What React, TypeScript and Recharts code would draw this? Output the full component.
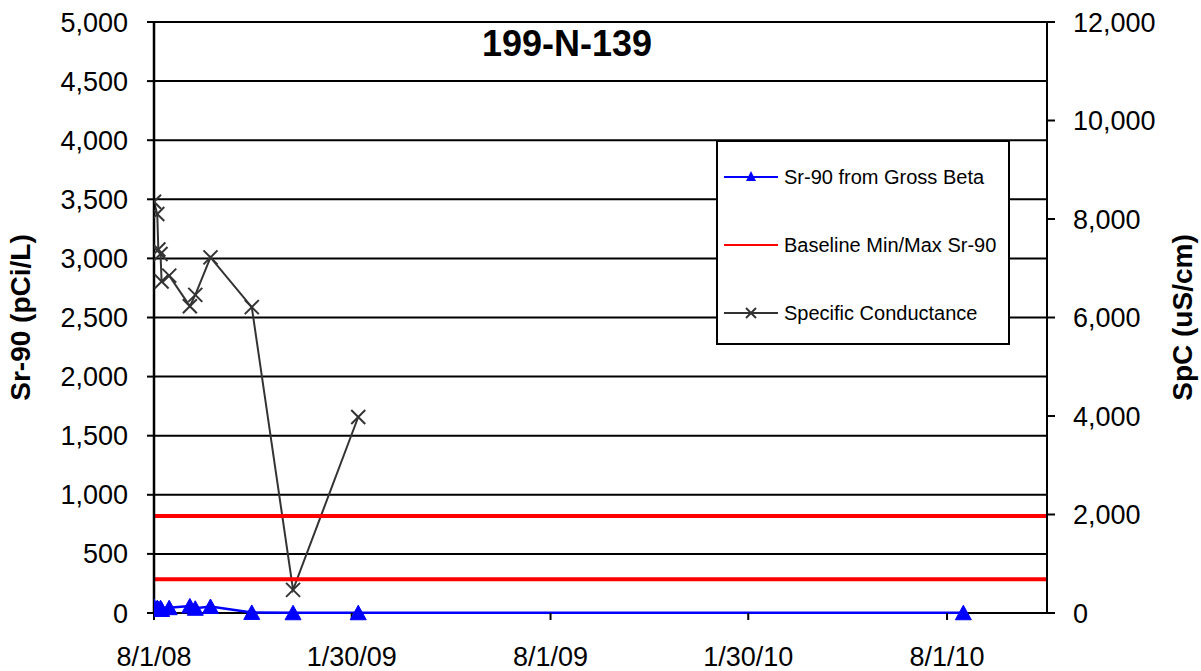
import React from 'react';
import {
  ComposedChart,
  Line,
  XAxis,
  YAxis,
  CartesianGrid,
  ReferenceLine,
  Legend,
  Label,
} from 'recharts';

// ---- data ----
const spcDates = [
  '2008-08-01', '2008-08-04', '2008-08-05', '2008-08-07', '2008-08-08', '2008-08-15',
  '2008-09-03', '2008-09-08', '2008-09-22', '2008-10-30', '2008-12-07', '2009-02-05',
];
const spcValues = [8350, 8100, 7380, 7290, 6730, 6850, 6230, 6460, 7220, 6210, 470, 3980];

const srDates = [
  '2008-08-01', '2008-08-04', '2008-08-05', '2008-08-07', '2008-08-08', '2008-08-15',
  '2008-09-03', '2008-09-08', '2008-09-22', '2008-10-30', '2008-12-07', '2009-02-05',
  '2010-08-16',
];
const srValues = [55, 45, 35, 45, 30, 45, 60, 40, 55, 5, 2, 2, 2];

const baselineSr90 = [285, 820]; // min, max

const xTickDates = ['2008-08-01', '2009-01-30', '2009-08-01', '2010-01-30', '2010-08-01'];
const xDomainDates = ['2008-08-01', '2010-11-01'];
const leftTicks = [0, 500, 1000, 1500, 2000, 2500, 3000, 3500, 4000, 4500, 5000];
const rightTicks = [0, 2000, 4000, 6000, 8000, 10000, 12000];

const title = '199-N-139';
const seriesNames = ['Sr-90 from Gross Beta', 'Baseline Min/Max Sr-90', 'Specific Conductance'];

// ---- helpers ----
const toTime = (d: string) => {
  const [y, m, day] = d.split('-').map(Number);
  return Date.UTC(y, m - 1, day);
};
const fmtDate = (t: number) => {
  const d = new Date(t);
  return `${d.getUTCMonth() + 1}/${d.getUTCDate()}/${String(d.getUTCFullYear()).slice(2)}`;
};
const fmtNum = (v: number) => v.toLocaleString('en-US');

const spcData = spcDates.map((d, i) => ({ t: toTime(d), spc: spcValues[i] }));
const srData = srDates.map((d, i) => ({ t: toTime(d), sr: srValues[i] }));

const FONT = '"Liberation Sans", Arial, Helvetica, sans-serif';
const BLUE = '#0000FF';
const RED = '#FF0000';
const GREY = '#333333';

const TriangleDot = (props: any) => {
  const { cx, cy } = props;
  if (cx == null || cy == null) return null;
  return (
    <polygon
      points={`${cx},${cy - 7.5} ${cx - 8},${cy + 7} ${cx + 8},${cy + 7}`}
      fill={BLUE}
      stroke={BLUE}
      strokeWidth={1}
    />
  );
};

const CrossDot = (props: any) => {
  const { cx, cy } = props;
  if (cx == null || cy == null) return null;
  const r = 7;
  return (
    <g stroke={GREY} strokeWidth={2}>
      <line x1={cx - r} y1={cy - r} x2={cx + r} y2={cy + r} />
      <line x1={cx - r} y1={cy + r} x2={cx + r} y2={cy - r} />
    </g>
  );
};

const AxisTitle = ({ viewBox, text, offsetX }: any) => {
  if (!viewBox) return null;
  const cx = viewBox.x + offsetX;
  const cy = viewBox.y + viewBox.height / 2;
  return (
    <text
      x={cx}
      y={cy}
      transform={`rotate(-90 ${cx} ${cy})`}
      textAnchor="middle"
      dominantBaseline="central"
      fontFamily={FONT}
      fontSize={28}
      fontWeight="bold"
      fill="#000"
    >
      {text}
    </text>
  );
};

const LegendBox = () => {
  const row = (sample: React.ReactNode, label: string) => (
    <div style={{ height: 68, display: 'flex', alignItems: 'center' }}>
      <svg width={54} height={20} style={{ marginLeft: 6, marginRight: 6, flex: 'none' }}>
        {sample}
      </svg>
      <span style={{ fontFamily: FONT, fontSize: 20, color: '#000', whiteSpace: 'nowrap' }}>{label}</span>
    </div>
  );
  return (
    <div
      style={{
        width: 294,
        height: 205,
        boxSizing: 'border-box',
        border: '2px solid #000',
        background: '#fff',
        paddingTop: 1,
      }}
    >
      {row(
        <g>
          <line x1={0} y1={10} x2={54} y2={10} stroke={BLUE} strokeWidth={2} />
          <polygon points="27,4 22,14 32,14" fill={BLUE} />
        </g>,
        seriesNames[0]
      )}
      {row(<line x1={0} y1={10} x2={54} y2={10} stroke={RED} strokeWidth={2} />, seriesNames[1])}
      {row(
        <g stroke={GREY} strokeWidth={2}>
          <line x1={0} y1={10} x2={54} y2={10} />
          <line x1={22} y1={5} x2={32} y2={15} />
          <line x1={22} y1={15} x2={32} y2={5} />
        </g>,
        seriesNames[2]
      )}
    </div>
  );
};

export default function App() {
  const tickStyle = { fontFamily: FONT, fontSize: 27, fill: '#000' };
  return (
    <div style={{ position: 'absolute', left: 0, top: 0, width: 1201, height: 671, background: '#fff' }}>
      <ComposedChart
        width={1201}
        height={671}
        margin={{ top: 22, right: 0, bottom: 0, left: 0 }}
        style={{ fontFamily: FONT }}
      >
        {/* the grid line at 0 doubles as the bottom axis line, so the series can sit on top of it */}
        <CartesianGrid yAxisId="left" vertical={false} stroke="#000" strokeWidth={2} />
        <XAxis
          type="number"
          dataKey="t"
          domain={xDomainDates.map(toTime)}
          ticks={xTickDates.map(toTime)}
          tickFormatter={fmtDate}
          allowDataOverflow
          height={58}
          tick={tickStyle}
          tickSize={7}
          tickMargin={27}
          axisLine={false}
          tickLine={{ stroke: '#000', strokeWidth: 2 }}
        />
        <YAxis
          yAxisId="left"
          orientation="left"
          domain={[0, 5000]}
          ticks={leftTicks}
          tickFormatter={fmtNum}
          width={154}
          tick={tickStyle}
          tickSize={7}
          tickMargin={19}
          axisLine={{ stroke: '#000', strokeWidth: 2.5 }}
          tickLine={{ stroke: '#000', strokeWidth: 2 }}
          interval={0}
        >
          <Label content={(p: any) => <AxisTitle viewBox={p.viewBox} text="Sr-90 (pCi/L)" offsetX={20} />} />
        </YAxis>
        <YAxis
          yAxisId="right"
          orientation="right"
          domain={[0, 12000]}
          ticks={rightTicks}
          tickFormatter={fmtNum}
          width={154}
          tick={tickStyle}
          tickSize={8}
          tickMargin={18}
          axisLine={{ stroke: '#000', strokeWidth: 2 }}
          tickLine={{ stroke: '#000', strokeWidth: 2 }}
          interval={0}
        >
          <Label content={(p: any) => <AxisTitle viewBox={p.viewBox} text="SpC (uS/cm)" offsetX={135} />} />
        </YAxis>
        <Line
          yAxisId="right"
          data={spcData}
          dataKey="spc"
          name={seriesNames[2]}
          stroke={GREY}
          strokeWidth={2}
          dot={<CrossDot />}
          activeDot={false}
          isAnimationActive={false}
        />
        {baselineSr90.map((v) => (
          <ReferenceLine key={v} yAxisId="left" y={v} stroke={RED} strokeWidth={4} />
        ))}
        <Line
          yAxisId="left"
          data={srData}
          dataKey="sr"
          name={seriesNames[0]}
          stroke={BLUE}
          strokeWidth={2.5}
          dot={<TriangleDot />}
          activeDot={false}
          isAnimationActive={false}
        />
        <Legend
          layout="horizontal"
          align="center"
          verticalAlign="middle"
          content={() => <LegendBox />}
          wrapperStyle={{ position: 'absolute', left: 716, top: 140, width: 294, height: 205 }}
        />
      </ComposedChart>
      <svg
        width={1201}
        height={80}
        style={{ position: 'absolute', left: 0, top: 0, pointerEvents: 'none' }}
      >
        <text x={567} y={56} textAnchor="middle" fontFamily={FONT} fontSize={36} fontWeight="bold" fill="#000">
          {title}
        </text>
      </svg>
    </div>
  );
}
